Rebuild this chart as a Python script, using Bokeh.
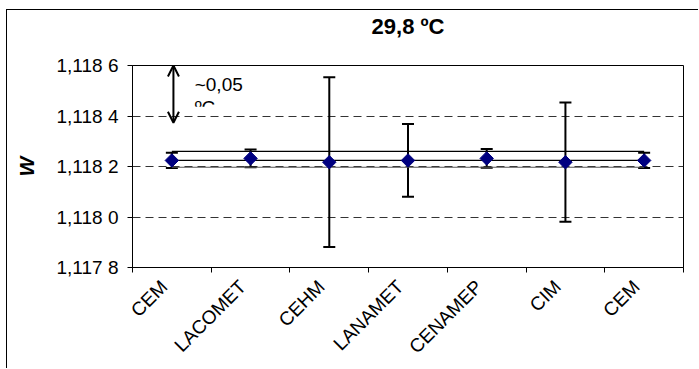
import math
from bokeh.plotting import figure
from bokeh.models import (ColumnDataSource, Range1d, FixedTicker, CustomJSTickFormatter,
                          Whisker, TeeHead, Arrow, OpenHead, Title)
from bokeh.core.properties import value
from bokeh.embed import file_html
from bokeh.resources import INLINE

# ---- data ----
labs = ["CEM", "LACOMET", "CEHM", "LANAMET", "CENAMEP", "CIM", "CEM"]
w_val = [1.118224, 1.118232, 1.118217, 1.118224, 1.118232, 1.118217, 1.118224]
w_unc = [0.000030, 0.000035, 0.000336, 0.000144, 0.000037, 0.000236, 0.000030]
ref_upper = 1.118260
ref_mean = 1.118224
ref_lower = 1.118197
y_ticks = [1.1178, 1.1180, 1.1182, 1.1184, 1.1186]
grid_ticks = [1.1180, 1.1182, 1.1184]
arrow_top = 1.1186
arrow_bottom = 1.118373
arrow_text = "~0,05"
arrow_text2 = "ºC"
title_txt = "29,8 ºC"
y_label = "W"

FONT = "Liberation Sans"
xs = list(range(1, len(labs) + 1))
src = ColumnDataSource(dict(x=xs, y=w_val,
                            upper=[v + u for v, u in zip(w_val, w_unc)],
                            lower=[v - u for v, u in zip(w_val, w_unc)]))

W, H = 692, 359
p = figure(width=W, height=H, output_backend="svg", toolbar_location=None,
           x_range=Range1d(0.5, len(labs) + 0.5), y_range=Range1d(y_ticks[0], y_ticks[-1]),
           min_border_left=125, min_border_right=16, min_border_top=54, min_border_bottom=102,
           title=title_txt)
# outer chart border: only its left and top edges are visible in the window
p.styles = {"position": "relative", "left": "6px", "top": "9px",
            "border-left": "1px solid black", "border-top": "1px solid black"}
p.background_fill_color = "white"
p.border_fill_color = "white"
p.outline_line_color = "black"
p.outline_line_width = 1

# blank spacer between the frame and the title (pushes the title upward)
p.add_layout(Title(text=" ", text_font_size="9px", standoff=13), "above")

p.title.align = "center"
p.title.text_font = FONT
p.title.text_font_size = "22px"
p.title.text_font_style = "bold"
p.title.text_color = "black"
p.title.standoff = 3

# axes
label_pos = [x - 0.1 for x in xs]
p.xaxis.ticker = FixedTicker(ticks=label_pos, minor_ticks=[x - 0.5 for x in xs] + [xs[-1] + 0.5])
p.xaxis.formatter = CustomJSTickFormatter(args=dict(labs=labs),
                                          code="return labs[Math.round(tick + 0.1) - 1] || '';")
p.xaxis.major_tick_line_color = None
p.xaxis.minor_tick_in = 0
p.xaxis.minor_tick_out = 5
p.xaxis.minor_tick_line_color = "black"
p.xaxis.major_label_orientation = math.pi / 4
p.xaxis.major_label_standoff = 10
p.xaxis.major_label_text_font = FONT
p.xaxis.major_label_text_font_size = "19px"
p.xaxis.major_label_text_color = "black"
p.xaxis.axis_line_color = "black"

p.yaxis.ticker = FixedTicker(ticks=y_ticks, minor_ticks=[])
p.yaxis.formatter = CustomJSTickFormatter(code="""
const s = tick.toFixed(4).replace('.', ',');
return s.slice(0, -1) + ' ' + s.slice(-1);
""")
p.yaxis.major_tick_in = 0
p.yaxis.major_tick_out = 5
p.yaxis.major_tick_line_color = "black"
p.yaxis.major_label_standoff = 9
p.yaxis.major_label_text_font = FONT
p.yaxis.major_label_text_font_size = "19px"
p.yaxis.major_label_text_color = "black"
p.yaxis.axis_line_color = "black"
p.yaxis.axis_label = y_label
p.yaxis.axis_label_text_font = FONT
p.yaxis.axis_label_text_font_size = "21px"
p.yaxis.axis_label_text_font_style = "bold italic"
p.yaxis.axis_label_text_color = "black"
p.yaxis.axis_label_standoff = 16

p.xgrid.grid_line_color = None
p.ygrid.ticker = FixedTicker(ticks=grid_ticks)
p.ygrid.grid_line_color = "#333333"
p.ygrid.grid_line_dash = "8 5"
p.ygrid.grid_line_width = 1

# reference lines
p.line([xs[0], xs[-1]], [ref_upper, ref_upper], line_color="black", line_width=1.2)
p.line([xs[0], xs[-1]], [ref_mean, ref_mean], line_color="black", line_width=1.2)
p.line([xs[0], xs[-1]], [ref_lower, ref_lower], line_color="#555555", line_width=1.2)

# error bars
wh = Whisker(source=src, base="x", upper="upper", lower="lower", line_width=2, line_color="black",
             upper_head=TeeHead(size=12, line_width=2, line_color="black"),
             lower_head=TeeHead(size=12, line_width=2, line_color="black"))
p.add_layout(wh)

# points
p.scatter("x", "y", source=src, marker="square", angle=math.pi / 4, size=9.5,
          fill_color="#000080", line_color="#000080")

# arrow + annotation (second text line is cut off, as in the original text box)
ax = 1.02
p.add_layout(Arrow(x_start=ax, y_start=arrow_bottom, x_end=ax, y_end=arrow_top,
                   line_width=2, line_color="black",
                   start=OpenHead(size=11, line_width=2, line_color="black"),
                   end=OpenHead(size=11, line_width=2, line_color="black")))
p.text(x=[1.29], y=[1.1185251], text=[arrow_text], text_font=value(FONT), text_font_size="19px",
       text_baseline="middle", text_align="left", text_color="black")
p.text(x=[1.29], y=[1.1184345], text=[arrow_text2], text_font=value(FONT), text_font_size="19px",
       text_baseline="middle", text_align="left", text_color="black")
p.quad(left=[1.27], right=[1.75], top=[1.11843645], bottom=[1.1184049],
       fill_color="white", line_color=None)

open("out.html", "w").write(file_html(p, INLINE))
